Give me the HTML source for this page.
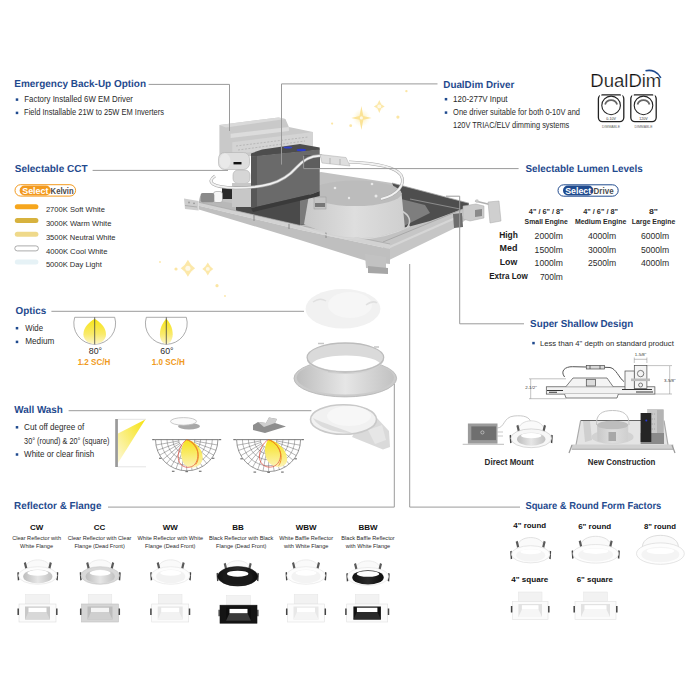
<!DOCTYPE html>
<html><head><meta charset="utf-8"><title>Recessed Downlight Features</title>
<style>
html,body{margin:0;padding:0;background:#fff;width:700px;height:700px;overflow:hidden}
svg{display:block;font-family:"Liberation Sans",sans-serif}
</style></head><body>
<svg width="700" height="700" viewBox="0 0 700 700">
<rect width="700" height="700" fill="#fff"/>
<defs>
<linearGradient id="gPetal" x1="0" y1="0" x2="0" y2="1"><stop offset="0" stop-color="#f7e414"/><stop offset="0.6" stop-color="#f9ea6a"/><stop offset="1" stop-color="#fcf5c8"/></linearGradient>
<linearGradient id="gWall" x1="1" y1="0" x2="0" y2="1"><stop offset="0" stop-color="#f6e20e"/><stop offset="1" stop-color="#fdf8d8"/></linearGradient>
<linearGradient id="gLobe" x1="0" y1="0" x2="0" y2="1"><stop offset="0" stop-color="#f6e21a"/><stop offset="1" stop-color="#fcf3b8"/></linearGradient>
<linearGradient id="gCan" x1="0" y1="0" x2="1" y2="0"><stop offset="0" stop-color="#c8c8c8"/><stop offset="0.5" stop-color="#dedede"/><stop offset="1" stop-color="#cfcfcf"/></linearGradient>
<linearGradient id="gPan" x1="0" y1="0" x2="1" y2="1"><stop offset="0" stop-color="#5e5e5e"/><stop offset="1" stop-color="#8c8c8c"/></linearGradient>
<linearGradient id="gFlange" x1="0" y1="0" x2="0" y2="1"><stop offset="0" stop-color="#cfcfcf"/><stop offset="1" stop-color="#e4e4e4"/></linearGradient>
<linearGradient id="gSilver" x1="0" y1="0" x2="1" y2="0"><stop offset="0" stop-color="#bdbdbd"/><stop offset="0.5" stop-color="#e6e6e6"/><stop offset="1" stop-color="#c2c2c2"/></linearGradient>
<linearGradient id="gBlack" x1="0" y1="0" x2="1" y2="0"><stop offset="0" stop-color="#111"/><stop offset="0.5" stop-color="#2a2a2a"/><stop offset="1" stop-color="#0c0c0c"/></linearGradient>
<radialGradient id="gStar"><stop offset="0" stop-color="#fbe38a" stop-opacity="0.9"/><stop offset="1" stop-color="#fdf3c8" stop-opacity="0"/></radialGradient>
<filter id="fBlur" x="-50%" y="-50%" width="200%" height="200%"><feGaussianBlur stdDeviation="0.6"/></filter>
<filter id="fBlur2" x="-50%" y="-50%" width="200%" height="200%"><feGaussianBlur stdDeviation="0.35"/></filter>
</defs>
<g fill="#1f4a8e">
<rect x="15.75" y="98.35" width="2.5" height="2.5"/>
<rect x="15.75" y="111.65" width="2.5" height="2.5"/>
<rect x="444.75" y="97.95" width="2.5" height="2.5"/>
<rect x="444.75" y="111.35" width="2.5" height="2.5"/>
<rect x="15.75" y="326.95" width="2.5" height="2.5"/>
<rect x="15.75" y="340.65" width="2.5" height="2.5"/>
<rect x="15.75" y="426.05" width="2.5" height="2.5"/>
<rect x="15.75" y="453.25" width="2.5" height="2.5"/>
<rect x="532.25" y="341.85" width="2.5" height="2.5"/>
</g>
<rect x="15" y="184.7" width="60.6" height="11.4" rx="5.7" fill="#fff" stroke="#f39a1e" stroke-width="1"/>
<rect x="19.6" y="185.5" width="31.2" height="10" rx="5" fill="#f39a1e"/>
<text x="22.2" y="193.6" font-size="9" font-weight="bold" fill="#fff" textLength="26.3" lengthAdjust="spacingAndGlyphs">Select</text>
<text x="50.6" y="193.6" font-size="9" font-weight="bold" fill="#4a4a4a" textLength="23" lengthAdjust="spacingAndGlyphs">Kelvin</text>
<rect x="14.8" y="204.3" width="23.6" height="5" rx="2.5" fill="#f6a61d"/>
<rect x="14.8" y="218.0" width="23.6" height="5" rx="2.5" fill="#d7b23e"/>
<rect x="14.8" y="231.7" width="23.6" height="5" rx="2.5" fill="#efd98a"/>
<rect x="14.8" y="245.9" width="23.6" height="5" rx="2.5" fill="#ffffff" stroke="#888" stroke-width="0.7"/>
<rect x="14.8" y="259.6" width="23.6" height="5" rx="2.5" fill="#e6f2f6"/>
<path d="M74.7,317.3 A20.9,20.9 0 1 0 114.7,317.3 Z" fill="#fff" stroke="#8a8a8a" stroke-width="0.7"/><path d="M94.7,318.8 C99.8,321.8 106.0,327.3 106.0,334.3 C106.0,340.3 100.4,344.1 94.7,344.1 C89.0,344.1 83.4,340.3 83.4,334.3 C83.4,327.3 89.6,321.8 94.7,318.8 Z" fill="url(#gPetal)"/><path d="M94.7,317.3V344.4" stroke="#444" stroke-width="0.8"/>
<path d="M146.3,317.3 A20.9,20.9 0 1 0 186.3,317.3 Z" fill="#fff" stroke="#8a8a8a" stroke-width="0.7"/><path d="M166.3,318.8 C169.2,321.8 172.7,327.3 172.7,334.3 C172.7,340.3 169.5,344.1 166.3,344.1 C163.1,344.1 159.9,340.3 159.9,334.3 C159.9,327.3 163.4,321.8 166.3,318.8 Z" fill="url(#gPetal)"/><path d="M166.3,317.3V344.4" stroke="#444" stroke-width="0.8"/>
<rect x="115.2" y="419" width="2.7" height="48" fill="#9a9a9a"/>
<path d="M118,419.3H146M118,466.8H146" stroke="#d0d0d0" stroke-width="0.6"/>
<path d="M145.3,419.6L118,433.6V463Z" fill="url(#gWall)"/>
<path d="M155.5,439.6 A31.2,31.2 0 0 0 217.89999999999998,439.6 Z" fill="#fff" stroke="#555" stroke-width="0.6"/><path d="M178.6,439.6 A8.1,8.1 0 0 0 194.8,439.6 M172.7,439.6 A14.0,14.0 0 0 0 200.7,439.6 M167.0,439.6 A19.7,19.7 0 0 0 206.4,439.6 M161.1,439.6 A25.6,25.6 0 0 0 212.3,439.6 M194.7,441.0L217.4,445.0 M194.3,442.4L216.0,450.3 M193.7,443.7L213.7,455.2 M192.9,444.8L210.6,459.7 M191.9,445.8L206.8,463.5 M190.8,446.6L202.3,466.6 M189.5,447.2L197.4,468.9 M188.1,447.6L192.1,470.3 M186.7,447.7L186.7,470.8 M185.3,447.6L181.3,470.3 M183.9,447.2L176.0,468.9 M182.6,446.6L171.1,466.6 M181.5,445.8L166.6,463.5 M180.5,444.8L162.8,459.7 M179.7,443.7L159.7,455.2 M179.1,442.4L157.4,450.3 M178.7,441.0L156.0,445.0" fill="none" stroke="#4a4a4a" stroke-width="0.4"/><g transform="translate(186.7,439.6)"><path d="M0,0 C6,1 16,8 16,18 C16,25 10,28.5 4,28 C-2,27.5 -5.5,22 -5.5,14 C-5.5,7 -3,2 0,0Z" fill="url(#gLobe)"/><path d="M0,0 C-6,4 -10,14 -8,21 C-6,27 0,29 5,27 C10,25 12,18 11,12 C10,6 5,1 0,0Z" fill="none" stroke="#e24a3c" stroke-width="0.7"/><path d="M0,0 C5,2 11,8 11.5,15 C12,20 10,24 9,25" fill="none" stroke="#ef8a1c" stroke-width="0.9"/></g><path d="M154.5,439.6H218.89999999999998" stroke="#777" stroke-width="0.6"/><rect x="152.2" y="439.0" width="2.6" height="1.2" fill="#777"/><rect x="218.6" y="439.0" width="2.6" height="1.2" fill="#777"/><rect x="159.0" y="457.7" width="2.6" height="1.2" fill="#777"/><rect x="211.8" y="457.7" width="2.6" height="1.2" fill="#777"/><rect x="171.9" y="470.7" width="2.6" height="1.2" fill="#777"/><rect x="198.9" y="470.7" width="2.6" height="1.2" fill="#777"/><rect x="185.4" y="471.0" width="2.6" height="1.2" fill="#777"/>
<path d="M236.60000000000002,439.6 A32,32 0 0 0 300.6,439.6 Z" fill="#fff" stroke="#555" stroke-width="0.6"/><path d="M260.3,439.6 A8.3,8.3 0 0 0 276.9,439.6 M254.2,439.6 A14.4,14.4 0 0 0 283.0,439.6 M248.4,439.6 A20.2,20.2 0 0 0 288.8,439.6 M242.4,439.6 A26.2,26.2 0 0 0 294.8,439.6 M276.8,441.0L300.1,445.2 M276.4,442.4L298.7,450.5 M275.8,443.8L296.3,455.6 M275.0,444.9L293.1,460.2 M273.9,446.0L289.2,464.1 M272.8,446.8L284.6,467.3 M271.4,447.4L279.5,469.7 M270.0,447.8L274.2,471.1 M268.6,447.9L268.6,471.6 M267.2,447.8L263.0,471.1 M265.8,447.4L257.7,469.7 M264.4,446.8L252.6,467.3 M263.3,446.0L248.0,464.1 M262.2,444.9L244.1,460.2 M261.4,443.8L240.9,455.6 M260.8,442.4L238.5,450.5 M260.4,441.0L237.1,445.2" fill="none" stroke="#4a4a4a" stroke-width="0.4"/><g transform="translate(268.6,439.6)"><path d="M0,0 C7,1 18,9 18.5,19 C19,25 14,28 9,27.5 C3,27 -3,22 -3.5,13 C-4,7 -2,2 0,0Z" fill="url(#gLobe)"/><path d="M0,0 C-6,3 -10,12 -9,19 C-8,25 -3,28 2,27.5 C8,27 12,22 12,15 C11.5,8 6,2 0,0Z" fill="none" stroke="#e24a3c" stroke-width="0.7"/><path d="M0,0 C6,2 12,9 12.5,16 C13,21 11,25 10,26" fill="none" stroke="#ef8a1c" stroke-width="0.9"/></g><path d="M235.60000000000002,439.6H301.6" stroke="#777" stroke-width="0.6"/><rect x="233.3" y="439.0" width="2.6" height="1.2" fill="#777"/><rect x="301.3" y="439.0" width="2.6" height="1.2" fill="#777"/><rect x="240.3" y="458.2" width="2.6" height="1.2" fill="#777"/><rect x="294.3" y="458.2" width="2.6" height="1.2" fill="#777"/><rect x="253.5" y="471.5" width="2.6" height="1.2" fill="#777"/><rect x="281.1" y="471.5" width="2.6" height="1.2" fill="#777"/><rect x="267.3" y="471.8" width="2.6" height="1.2" fill="#777"/>
<ellipse cx="189" cy="426.2" rx="11" ry="3.2" fill="#a8a8a8" filter="url(#fBlur2)"/>
<ellipse cx="183.5" cy="421.4" rx="13" ry="3.8" fill="#fafafa" stroke="#bdbdbd" stroke-width="0.8"/>
<path d="M253,425 L258,422 L266,423 L269,417.5 L277,419 L275,423 L286,426.5 L265,433 L253,430Z" fill="#8e8e8e"/>
<path d="M258,422 L266,423 L269,417.5 L277,419 L275,423 L264,427Z" fill="#cfcfcf"/>
<g filter="url(#fBlur)" opacity="0.85"><circle cx="361.4" cy="117.9" r="9.0" fill="url(#gStar)"/><path d="M361.4,105.9 L363.32,115.98 L371.6,117.9 L363.32,119.82 L361.4,129.9 L359.48,119.82 L351.2,117.9 L359.48,115.98Z" fill="#fbdf85"/><circle cx="361.4" cy="117.9" r="1.56" fill="#fff" opacity="0.75"/></g>
<g filter="url(#fBlur)" opacity="0.7"><circle cx="379.3" cy="106.4" r="4.9" fill="url(#gStar)"/><path d="M379.3,99.9 L381.25,104.45 L384.8,106.4 L381.25,108.35 L379.3,112.9 L377.35,108.35 L373.8,106.4 L377.35,104.45Z" fill="#fbdf85"/><circle cx="379.3" cy="106.4" r="1.95" fill="#fff" opacity="0.75"/></g>
<g filter="url(#fBlur)" opacity="0.7"><circle cx="187.9" cy="268.3" r="6.4" fill="url(#gStar)"/><path d="M187.9,259.8 L191.13,265.07 L195.1,268.3 L191.13,271.53 L187.9,276.8 L184.67,271.53 L180.7,268.3 L184.67,265.07Z" fill="#fbdf85"/><circle cx="187.9" cy="268.3" r="2.55" fill="#fff" opacity="0.75"/></g>
<g filter="url(#fBlur)" opacity="0.7"><circle cx="207.8" cy="268.9" r="4.9" fill="url(#gStar)"/><path d="M207.8,262.4 L210.27,266.43 L213.3,268.9 L210.27,271.37 L207.8,275.4 L205.33,271.37 L202.3,268.9 L205.33,266.43Z" fill="#fbdf85"/><circle cx="207.8" cy="268.9" r="1.95" fill="#fff" opacity="0.75"/></g>
<circle cx="397.9" cy="117.1" r="1.6" fill="#fbe08e" opacity="0.8" filter="url(#fBlur)"/>
<circle cx="406.4" cy="91.1" r="1.2" fill="#fbe08e" opacity="0.8" filter="url(#fBlur)"/>
<circle cx="332.1" cy="123.6" r="1.1" fill="#fbe08e" opacity="0.8" filter="url(#fBlur)"/>
<circle cx="350.7" cy="125.7" r="1.4" fill="#fbe08e" opacity="0.8" filter="url(#fBlur)"/>
<circle cx="176" cy="269" r="1.6" fill="#fbe08e" opacity="0.8" filter="url(#fBlur)"/>
<circle cx="217" cy="285.7" r="1.6" fill="#fbe08e" opacity="0.8" filter="url(#fBlur)"/>
<circle cx="160" cy="262" r="0.9" fill="#fbe08e" opacity="0.8" filter="url(#fBlur)"/>
<circle cx="225" cy="296" r="0.9" fill="#fbe08e" opacity="0.8" filter="url(#fBlur)"/>
<text x="14.3" y="87.0" font-size="10.2" font-weight="bold" fill="#1f4a8e" text-anchor="start" textLength="131.7" lengthAdjust="spacingAndGlyphs" text-rendering="geometricPrecision">Emergency Back-Up Option</text>
<text x="14.8" y="172.1" font-size="10.2" font-weight="bold" fill="#1f4a8e" text-anchor="start" textLength="72.7" lengthAdjust="spacingAndGlyphs" text-rendering="geometricPrecision">Selectable CCT</text>
<text x="15.6" y="314.2" font-size="10.2" font-weight="bold" fill="#1f4a8e" text-anchor="start" textLength="30.7" lengthAdjust="spacingAndGlyphs" text-rendering="geometricPrecision">Optics</text>
<text x="14.2" y="412.7" font-size="10.2" font-weight="bold" fill="#1f4a8e" text-anchor="start" textLength="48.7" lengthAdjust="spacingAndGlyphs" text-rendering="geometricPrecision">Wall Wash</text>
<text x="14.1" y="509.4" font-size="10.2" font-weight="bold" fill="#1f4a8e" text-anchor="start" textLength="87.3" lengthAdjust="spacingAndGlyphs" text-rendering="geometricPrecision">Reflector &amp; Flange</text>
<text x="443.3" y="87.6" font-size="10.2" font-weight="bold" fill="#1f4a8e" text-anchor="start" textLength="71.0" lengthAdjust="spacingAndGlyphs" text-rendering="geometricPrecision">DualDim Driver</text>
<text x="525.4" y="172.1" font-size="10.2" font-weight="bold" fill="#1f4a8e" text-anchor="start" textLength="117.3" lengthAdjust="spacingAndGlyphs" text-rendering="geometricPrecision">Selectable Lumen Levels</text>
<text x="530.1" y="327.1" font-size="10.2" font-weight="bold" fill="#1f4a8e" text-anchor="start" textLength="103.2" lengthAdjust="spacingAndGlyphs" text-rendering="geometricPrecision">Super Shallow Design</text>
<text x="525.4" y="509.3" font-size="10.2" font-weight="bold" fill="#1f4a8e" text-anchor="start" textLength="135.9" lengthAdjust="spacingAndGlyphs" text-rendering="geometricPrecision">Square &amp; Round Form Factors</text>
<text x="24.3" y="101.7" font-size="8.2" font-weight="normal" fill="#2a2a2a" text-anchor="start" textLength="108.7" lengthAdjust="spacingAndGlyphs">Factory Installed 6W EM Driver</text>
<text x="24.1" y="115.4" font-size="8.2" font-weight="normal" fill="#2a2a2a" text-anchor="start" textLength="139.9" lengthAdjust="spacingAndGlyphs">Field Installable 21W to 25W EM Inverters</text>
<text x="453.1" y="101.5" font-size="8.2" font-weight="normal" fill="#2a2a2a" text-anchor="start" textLength="54.5" lengthAdjust="spacingAndGlyphs">120-277V Input</text>
<text x="453.1" y="115.0" font-size="8.2" font-weight="normal" fill="#2a2a2a" text-anchor="start" textLength="126.9" lengthAdjust="spacingAndGlyphs">One driver suitable for both 0-10V and</text>
<text x="453.1" y="128.3" font-size="8.2" font-weight="normal" fill="#2a2a2a" text-anchor="start" textLength="116.2" lengthAdjust="spacingAndGlyphs">120V TRIAC/ELV dimming systems</text>
<text x="45.9" y="212.4" font-size="8.0" font-weight="normal" fill="#2a2a2a" text-anchor="start" textLength="59.0" lengthAdjust="spacingAndGlyphs">2700K Soft White</text>
<text x="45.9" y="226.2" font-size="8.0" font-weight="normal" fill="#2a2a2a" text-anchor="start" textLength="65.5" lengthAdjust="spacingAndGlyphs">3000K Warm White</text>
<text x="45.9" y="239.8" font-size="8.0" font-weight="normal" fill="#2a2a2a" text-anchor="start" textLength="69.6" lengthAdjust="spacingAndGlyphs">3500K Neutral White</text>
<text x="45.9" y="253.6" font-size="8.0" font-weight="normal" fill="#2a2a2a" text-anchor="start" textLength="61.6" lengthAdjust="spacingAndGlyphs">4000K Cool White</text>
<text x="45.9" y="267.4" font-size="8.0" font-weight="normal" fill="#2a2a2a" text-anchor="start" textLength="55.9" lengthAdjust="spacingAndGlyphs">5000K Day Light</text>
<text x="25.3" y="330.7" font-size="8.2" font-weight="normal" fill="#2a2a2a" text-anchor="start" textLength="17.7" lengthAdjust="spacingAndGlyphs">Wide</text>
<text x="25.3" y="344.4" font-size="8.2" font-weight="normal" fill="#2a2a2a" text-anchor="start" textLength="29.0" lengthAdjust="spacingAndGlyphs">Medium</text>
<text x="95.5" y="354.0" font-size="8.6" font-weight="normal" fill="#2a2a2a" text-anchor="middle" textLength="13.3" lengthAdjust="spacingAndGlyphs">80°</text>
<text x="94.0" y="364.6" font-size="8.6" font-weight="bold" fill="#f09a20" text-anchor="middle" textLength="32.7" lengthAdjust="spacingAndGlyphs">1.2 SC/H</text>
<text x="167.0" y="354.0" font-size="8.6" font-weight="normal" fill="#2a2a2a" text-anchor="middle" textLength="13.3" lengthAdjust="spacingAndGlyphs">60°</text>
<text x="168.3" y="364.6" font-size="8.6" font-weight="bold" fill="#f09a20" text-anchor="middle" textLength="32.9" lengthAdjust="spacingAndGlyphs">1.0 SC/H</text>
<text x="24.1" y="429.8" font-size="8.2" font-weight="normal" fill="#2a2a2a" text-anchor="start" textLength="60.2" lengthAdjust="spacingAndGlyphs">Cut off degree of</text>
<text x="24.1" y="443.9" font-size="8.2" font-weight="normal" fill="#2a2a2a" text-anchor="start" textLength="85.4" lengthAdjust="spacingAndGlyphs">30° (round) &amp; 20° (square)</text>
<text x="24.1" y="457.0" font-size="8.2" font-weight="normal" fill="#2a2a2a" text-anchor="start" textLength="70.2" lengthAdjust="spacingAndGlyphs">White or clear finish</text>
<text x="546.2" y="213.8" font-size="7.6" font-weight="bold" fill="#2a2a2a" text-anchor="middle" textLength="34.7" lengthAdjust="spacingAndGlyphs">4&quot; / 6&quot; / 8&quot;</text>
<text x="546.2" y="223.6" font-size="7.6" font-weight="bold" fill="#2a2a2a" text-anchor="middle" textLength="43.2" lengthAdjust="spacingAndGlyphs">Small Engine</text>
<text x="600.6" y="213.8" font-size="7.6" font-weight="bold" fill="#2a2a2a" text-anchor="middle" textLength="34.7" lengthAdjust="spacingAndGlyphs">4&quot; / 6&quot; / 8&quot;</text>
<text x="600.6" y="223.6" font-size="7.6" font-weight="bold" fill="#2a2a2a" text-anchor="middle" textLength="51.4" lengthAdjust="spacingAndGlyphs">Medium Engine</text>
<text x="653.5" y="213.8" font-size="7.6" font-weight="bold" fill="#2a2a2a" text-anchor="middle" textLength="9.0" lengthAdjust="spacingAndGlyphs">8&quot;</text>
<text x="653.5" y="223.6" font-size="7.6" font-weight="bold" fill="#2a2a2a" text-anchor="middle" textLength="43.4" lengthAdjust="spacingAndGlyphs">Large Engine</text>
<text x="508.5" y="237.7" font-size="8.9" font-weight="bold" fill="#1a1a1a" text-anchor="middle" textLength="18.7" lengthAdjust="spacingAndGlyphs">High</text>
<text x="508.5" y="251.4" font-size="8.9" font-weight="bold" fill="#1a1a1a" text-anchor="middle" textLength="17.9" lengthAdjust="spacingAndGlyphs">Med</text>
<text x="508.5" y="265.1" font-size="8.9" font-weight="bold" fill="#1a1a1a" text-anchor="middle" textLength="17.5" lengthAdjust="spacingAndGlyphs">Low</text>
<text x="508.5" y="278.6" font-size="8.9" font-weight="bold" fill="#1a1a1a" text-anchor="middle" textLength="38.7" lengthAdjust="spacingAndGlyphs">Extra Low</text>
<text x="548.7" y="238.9" font-size="8.6" font-weight="normal" fill="#2a2a2a" text-anchor="middle" textLength="28.2" lengthAdjust="spacingAndGlyphs">2000lm</text>
<text x="602.0" y="238.9" font-size="8.6" font-weight="normal" fill="#2a2a2a" text-anchor="middle" textLength="28.2" lengthAdjust="spacingAndGlyphs">4000lm</text>
<text x="655.0" y="238.9" font-size="8.6" font-weight="normal" fill="#2a2a2a" text-anchor="middle" textLength="28.2" lengthAdjust="spacingAndGlyphs">6000lm</text>
<text x="548.7" y="252.5" font-size="8.6" font-weight="normal" fill="#2a2a2a" text-anchor="middle" textLength="28.2" lengthAdjust="spacingAndGlyphs">1500lm</text>
<text x="602.0" y="252.5" font-size="8.6" font-weight="normal" fill="#2a2a2a" text-anchor="middle" textLength="28.2" lengthAdjust="spacingAndGlyphs">3000lm</text>
<text x="655.0" y="252.5" font-size="8.6" font-weight="normal" fill="#2a2a2a" text-anchor="middle" textLength="28.2" lengthAdjust="spacingAndGlyphs">5000lm</text>
<text x="548.7" y="266.0" font-size="8.6" font-weight="normal" fill="#2a2a2a" text-anchor="middle" textLength="28.2" lengthAdjust="spacingAndGlyphs">1000lm</text>
<text x="602.0" y="266.0" font-size="8.6" font-weight="normal" fill="#2a2a2a" text-anchor="middle" textLength="28.2" lengthAdjust="spacingAndGlyphs">2500lm</text>
<text x="655.0" y="266.0" font-size="8.6" font-weight="normal" fill="#2a2a2a" text-anchor="middle" textLength="28.2" lengthAdjust="spacingAndGlyphs">4000lm</text>
<text x="539.9" y="279.5" font-size="8.6" font-weight="normal" fill="#2a2a2a" text-anchor="start" textLength="23.0" lengthAdjust="spacingAndGlyphs">700lm</text>
<text x="540.0" y="345.5" font-size="8.0" font-weight="normal" fill="#2a2a2a" text-anchor="start" textLength="133.8" lengthAdjust="spacingAndGlyphs">Less than 4&quot; depth on standard product</text>
<text x="484.6" y="464.7" font-size="8.4" font-weight="bold" fill="#2a2a2a" text-anchor="start" textLength="49.2" lengthAdjust="spacingAndGlyphs">Direct Mount</text>
<text x="587.8" y="465.0" font-size="8.4" font-weight="bold" fill="#2a2a2a" text-anchor="start" textLength="67.6" lengthAdjust="spacingAndGlyphs">New Construction</text>
<text x="36.6" y="530.0" font-size="8.0" font-weight="bold" fill="#111" text-anchor="middle">CW</text>
<text x="36.6" y="540.4" font-size="5.6" font-weight="normal" fill="#2a2a2a" text-anchor="middle">Clear Reflector with</text>
<text x="36.6" y="547.9" font-size="5.6" font-weight="normal" fill="#2a2a2a" text-anchor="middle">White Flange</text>
<text x="99.6" y="530.0" font-size="8.0" font-weight="bold" fill="#111" text-anchor="middle">CC</text>
<text x="99.6" y="540.4" font-size="5.6" font-weight="normal" fill="#2a2a2a" text-anchor="middle">Clear Reflector with Clear</text>
<text x="99.6" y="547.9" font-size="5.6" font-weight="normal" fill="#2a2a2a" text-anchor="middle">Flange (Dead Front)</text>
<text x="170.3" y="530.0" font-size="8.0" font-weight="bold" fill="#111" text-anchor="middle">WW</text>
<text x="170.3" y="540.4" font-size="5.6" font-weight="normal" fill="#2a2a2a" text-anchor="middle">White Reflector with White</text>
<text x="170.3" y="547.9" font-size="5.6" font-weight="normal" fill="#2a2a2a" text-anchor="middle">Flange (Dead Front)</text>
<text x="238.0" y="530.0" font-size="8.0" font-weight="bold" fill="#111" text-anchor="middle">BB</text>
<text x="241.2" y="540.4" font-size="5.6" font-weight="normal" fill="#2a2a2a" text-anchor="middle">Black Reflector with Black</text>
<text x="241.2" y="547.9" font-size="5.6" font-weight="normal" fill="#2a2a2a" text-anchor="middle">Flange (Dead Front)</text>
<text x="306.2" y="530.0" font-size="8.0" font-weight="bold" fill="#111" text-anchor="middle">WBW</text>
<text x="306.2" y="540.4" font-size="5.6" font-weight="normal" fill="#2a2a2a" text-anchor="middle">White Baffle Reflector</text>
<text x="306.2" y="547.9" font-size="5.6" font-weight="normal" fill="#2a2a2a" text-anchor="middle">with White Flange</text>
<text x="368.0" y="530.0" font-size="8.0" font-weight="bold" fill="#111" text-anchor="middle">BBW</text>
<text x="368.0" y="540.4" font-size="5.6" font-weight="normal" fill="#2a2a2a" text-anchor="middle">Black Baffle Reflector</text>
<text x="368.0" y="547.9" font-size="5.6" font-weight="normal" fill="#2a2a2a" text-anchor="middle">with White Flange</text>
<text x="529.7" y="528.4" font-size="7.8" font-weight="bold" fill="#111" text-anchor="middle" textLength="32.7" lengthAdjust="spacingAndGlyphs">4&quot; round</text>
<text x="594.7" y="529.3" font-size="7.8" font-weight="bold" fill="#111" text-anchor="middle" textLength="33.0" lengthAdjust="spacingAndGlyphs">6&quot; round</text>
<text x="660.0" y="529.3" font-size="7.8" font-weight="bold" fill="#111" text-anchor="middle" textLength="32.1" lengthAdjust="spacingAndGlyphs">8&quot; round</text>
<text x="529.8" y="582.0" font-size="7.8" font-weight="bold" fill="#111" text-anchor="middle" textLength="37.1" lengthAdjust="spacingAndGlyphs">4&quot; square</text>
<text x="594.8" y="582.0" font-size="7.8" font-weight="bold" fill="#111" text-anchor="middle" textLength="36.3" lengthAdjust="spacingAndGlyphs">6&quot; square</text>
<path d="M200,196 L321,172 L392,183 L469,203.4 L469,208 L383,244 L300,228 L199,203Z" fill="#c2c2c2"/>
<path d="M392,183 L469,203.2 L468,207 L430,221 L404,228 L398,196Z" fill="#4e4e4e"/>
<path d="M401,199 L425,205 L430,213 L404,226Z" fill="#7e7e7e"/>
<path d="M410,199 L460,209" stroke="#8a8a8a" stroke-width="1.2"/>
<path d="M392,183 L469,203.2" stroke="#aaa" stroke-width="0.8"/>
<path d="M236,206 L251,207 L319.7,189 L330,194 L312,200 L306,224 L300,225.4 L236,211Z" fill="#4a4a4a"/>
<path d="M200,197 L236,204 L236,211 L198.9,202.3Z" fill="#b8b8b8"/>
<path d="M300,200 L312,198 L306,224 L300,225Z" fill="#7a7a7a"/>
<path d="M383,242 L469,206.5 L471,216 L454,228.6 L383,263Z" fill="#c6c6c6"/>
<path d="M383,250 L470,211.5" stroke="#d6d6d6" stroke-width="2"/>
<path d="M383,242 L469,206.5" stroke="#9c9c9c" stroke-width="0.7"/>
<path d="M198.9,202.3 L300,225.4 L390,244 L390,249 L300,229.7 L198.9,205.7Z" fill="#d2d2d2"/>
<path d="M198.9,205.7 L300,229.7 L390,249 L390,264 L370,262 L300,240 L198.9,209.5Z" fill="#bfbfbf"/>
<path d="M198.9,202.3 L300,225.4 L390,244" fill="none" stroke="#a5a5a5" stroke-width="0.7"/>
<path d="M254,215 v6 M326,232 v6 M289,224 v5" stroke="#888" stroke-width="1"/>
<path d="M184,198.5 L198.6,201 L198.6,210.5 L185,209Z" fill="#cdcdcd"/>
<path d="M185,205.5 L197,207" stroke="#a5a5a5" stroke-width="0.8"/>
<circle cx="189" cy="202.5" r="0.9" fill="#999"/><circle cx="194" cy="203.3" r="0.9" fill="#999"/>
<path d="M365,254 L386,257 L386,270 L366,268Z" fill="#c2c2c2"/>
<path d="M368,266 L388,268 L388,274 L368,273Z" fill="#a6a6a6"/>
<path d="M463,206 L476,204 L484,206 L484,218 L470,221 L463,219Z" fill="#cbcbcb" stroke="#a8a8a8" stroke-width="0.5"/>
<path d="M453,214 L462,213 L463,227 L454,228Z" fill="#6e6e6e"/>
<path d="M475,201 L490,204.5" stroke="#b0b0b0" stroke-width="1.6"/>
<circle cx="477" cy="201" r="1.7" fill="#c8c8c8"/>
<path d="M488,202 L499,201 L501,221 L490,223Z" fill="#cfcfcf" stroke="#a8a8a8" stroke-width="0.5"/>
<path d="M475,210 L482,209 L482,216 L475,217Z" fill="#8a8a8a"/>
<path d="M300,226 Q360,252 410,226" fill="none" stroke="#d8d8d8" stroke-width="1.2"/>
<path d="M402,211 Q414,218 407,228" fill="none" stroke="#cfcfcf" stroke-width="1.5"/>
<path d="M309,195 L304,224 Q340,242 378,237 L405,229 L401.5,193Z" fill="url(#gCan)"/>
<ellipse cx="355.3" cy="193.3" rx="46.3" ry="12.8" fill="#bcbcbc"/>
<circle cx="335" cy="188" r="1.3" fill="#e8e8e8"/><circle cx="372" cy="184" r="1.3" fill="#e8e8e8"/><circle cx="376" cy="196" r="1.5" fill="#e8e8e8"/><circle cx="349" cy="198" r="1.2" fill="#e8e8e8"/>
<rect x="314" y="197" width="12" height="12" fill="#c4c4c4" stroke="#999" stroke-width="0.5"/>
<rect x="315" y="203" width="10" height="4" fill="#777"/>
<path d="M219.4,125.1 L278.6,117.4 L285.4,119.1 L288.9,126.9 L312.9,132 L313,148 L251,156 L232,158 L219.4,160Z" fill="#c9c9c9"/>
<path d="M219.4,125.1 L278.6,117.4 L285.4,119.1 L226,127.5Z" fill="#dadada"/>
<path d="M230.6,133.7 L288.9,126.9 L288.9,131 L230.6,138Z" fill="#dcdcdc"/>
<path d="M232.3,142.3 L312.9,132 L313,146 L232.3,154Z" fill="#d4d4d4"/>
<path d="M236,146 L308,137 M238,150 L305,141" stroke="#b0b0b0" stroke-width="0.8" stroke-dasharray="2,1.5"/>
<rect x="218.5" y="152.5" width="31" height="17" rx="6" fill="#dedede" stroke="#b0b0b0" stroke-width="0.6"/>
<ellipse cx="225" cy="161" rx="5.5" ry="7.5" fill="#e9e9e9"/>
<rect x="233" y="170" width="17" height="13.5" rx="5" fill="#d6d6d6" stroke="#b0b0b0" stroke-width="0.6"/>
<rect x="233.5" y="162" width="8" height="2.4" fill="#111"/>
<rect x="222" y="187" width="10" height="12" fill="#2a2a2a"/>
<rect x="213.5" y="191.5" width="9" height="11" rx="2.5" fill="#f6f6f6" stroke="#888" stroke-width="0.5"/>
<rect x="200.6" y="192.9" width="13.7" height="9.4" rx="2" fill="#8a8a8a"/>
<rect x="232" y="183" width="19" height="24" fill="#c7c7c7"/>
<path d="M251,153.4 L262,149.5 L300,144 L319.7,147.4 L319.7,150 L251,157Z" fill="#4d4d4d"/>
<path d="M251,156.5 L319.7,149.5 L319.7,191 L312,194 L251,208.3Z" fill="#6a6a6a"/>
<path d="M251,156.5 L257,156 L257,207 L251,208.3Z" fill="#575757"/>
<path d="M251,208.3 L312,194 L319.7,191 L319.7,196 L253,212Z" fill="#3a3a3a"/>
<ellipse cx="288" cy="147.5" rx="4.3" ry="1.1" fill="#3344cc"/>
<ellipse cx="301.3" cy="150" rx="4.7" ry="1.2" fill="#2a3ad0"/>
<rect x="303.6" y="155.6" width="16" height="13" fill="#5e5e5e" stroke="#444" stroke-width="0.5"/>
<path d="M215,176 C206,182 212,187.5 235,187.8 C262,188 282,184 296,168 C304,159 312,155 322,156" fill="none" stroke="#a8a8a8" stroke-width="3"/>
<path d="M215,176 C206,182 212,187.5 235,187.8 C262,188 282,184 296,168 C304,159 312,155 322,156" fill="none" stroke="#f2f2f2" stroke-width="1.8"/>
<path d="M349,162 C372,163 395,166 401,175 C406,184 398,195 381,199" fill="none" stroke="#a8a8a8" stroke-width="3"/>
<path d="M349,162 C372,163 395,166 401,175 C406,184 398,195 381,199" fill="none" stroke="#f2f2f2" stroke-width="1.8"/>
<path d="M320,154.5 L346,157.5 L350,166 L322,163Z" fill="#dedede" stroke="#aaa" stroke-width="0.5"/>
<path d="M330,158 L330,164 M340,159 L340,165" stroke="#aaa" stroke-width="0.8"/>
<g fill="none" stroke="#9a9a9a" stroke-width="1">
<path d="M148.6,84.4H229.5V131"/>
<path d="M92.6,170.4H228"/>
<path d="M437.5,83.9H281.5V164.6"/>
<path d="M303.6,155.6V168.6H518.6"/>
<path d="M446,196.2H459.7V323.8H524"/>
<path d="M51.4,311.3H304"/>
<path d="M68.6,410.7H311.4"/>
<path d="M108,507.1H394.3V384"/>
<path d="M409.7,264V507.1H520"/>
</g>
<ellipse cx="343" cy="308.7" rx="37.4" ry="19.7" fill="#f1f1f1"/>
<ellipse cx="350" cy="305" rx="22" ry="13" fill="#f6f6f6"/>
<path d="M313,302 Q320,297 326,301 M366,305 Q373,300 377,303" stroke="#e0e0e0" stroke-width="1.5" fill="none"/>
<clipPath id="cpRim"><ellipse cx="345.4" cy="357.5" rx="37.2" ry="13.6"/></clipPath>
<ellipse cx="345.3" cy="378.3" rx="51.3" ry="18.6" fill="#cbcbcb" stroke="#b8b8b8" stroke-width="0.9"/>
<ellipse cx="345.3" cy="377.6" rx="48.6" ry="16.9" fill="url(#gSilver)"/>
<ellipse cx="345.4" cy="359.5" rx="38.3" ry="14.5" fill="#d2d2d2"/>
<ellipse cx="345.4" cy="357.5" rx="38.3" ry="14.5" fill="#dadada"/>
<ellipse cx="346" cy="366" rx="35.3" ry="10.5" fill="#fff" clip-path="url(#cpRim)"/>
<ellipse cx="345.4" cy="357.5" rx="38.3" ry="14.5" fill="none" stroke="#bcbcbc" stroke-width="1.3"/>
<path d="M318,343.5 h6 M374,347 h5 M328,371.5 h8" stroke="#c6c6c6" stroke-width="1.3"/>
<path d="M358,426 L376,417 L389,431 L390,447 L383,449.5 L352,437Z" fill="#dadada"/>
<path d="M368,430 L382,425 L386,440 L375,444Z" fill="#e6e6e6"/>
<ellipse cx="343.5" cy="419.5" rx="33" ry="14.8" fill="#f1f1f1" stroke="#c9c9c9" stroke-width="1.6"/>
<path d="M313,418 C318,428 335,433 352,433 C340,428 325,424 313,418Z" fill="#dcdcdc"/>
<ellipse cx="349" cy="416" rx="22" ry="10" fill="#f7f7f7"/>
<text x="590.3" y="87.2" font-size="19" fill="#111" stroke="#fff" stroke-width="0.2" textLength="71" lengthAdjust="spacingAndGlyphs">DualDim</text>
<path d="M645.5,70.8 A13,13 0 0 1 660.8,77.8" fill="none" stroke="#1f4a8e" stroke-width="1.7"/>
<rect x="598.4" y="94.8" width="25.4" height="26.8" rx="4" fill="none" stroke="#222" stroke-width="1.3"/>
<path d="M600.6,93.5 v3.5 M621.6,93.5 v3.5" stroke="#fff" stroke-width="1.6"/>
<circle cx="611.1" cy="105.4" r="9.3" fill="none" stroke="#222" stroke-width="1.1"/>
<path d="M605.1,104.5 A6.3,6.3 0 0 1 617.1,104.5" fill="none" stroke="#666" stroke-width="1.8"/>
<text x="611.1" y="119.8" font-size="3.6" fill="#333" text-anchor="middle">0-10V</text>
<text x="611.1" y="128.3" font-size="3.6" fill="#666" text-anchor="middle" textLength="18" lengthAdjust="spacingAndGlyphs">DIMMABLE</text>
<rect x="630.8" y="94.8" width="25.4" height="26.8" rx="4" fill="none" stroke="#222" stroke-width="1.3"/>
<path d="M633.0,93.5 v3.5 M654.0,93.5 v3.5" stroke="#fff" stroke-width="1.6"/>
<circle cx="643.5" cy="105.4" r="9.3" fill="none" stroke="#222" stroke-width="1.1"/>
<path d="M637.5,104.5 A6.3,6.3 0 0 1 649.5,104.5" fill="none" stroke="#666" stroke-width="1.8"/>
<text x="643.5" y="119.8" font-size="3.6" fill="#333" text-anchor="middle">120V</text>
<text x="643.5" y="128.3" font-size="3.6" fill="#666" text-anchor="middle" textLength="18" lengthAdjust="spacingAndGlyphs">DIMMABLE</text>
<rect x="558" y="184.8" width="60.2" height="11.4" rx="5.7" fill="#fff" stroke="#1f4a8e" stroke-width="1"/>
<rect x="563" y="185.5" width="30.4" height="10" rx="5" fill="#1f4a8e"/>
<text x="565.2" y="193.6" font-size="9" font-weight="bold" fill="#fff" textLength="26" lengthAdjust="spacingAndGlyphs">Select</text>
<text x="593.6" y="193.6" font-size="9" font-weight="bold" fill="#505050" textLength="20" lengthAdjust="spacingAndGlyphs">Drive</text>
<g fill="none" stroke="#4a4a4a" stroke-width="0.7"><rect x="546.3" y="386.8" width="108.6" height="7.3" fill="#f2f2f2"/><path d="M564.6,394.1 L566,398 H617 L618.3,394.1" fill="#f6f6f6"/><path d="M566,386.5 L573,378 H607 L613,386.5" fill="#f4f4f4"/><rect x="586.3" y="379.3" width="9.1" height="6.7" fill="#dcdcdc"/><rect x="625" y="371" width="9.3" height="18.6" fill="#f4f4f4"/><rect x="634.3" y="365.6" width="12.6" height="22.8" fill="#f4f4f4"/><circle cx="640.6" cy="373.6" r="3.2"/><circle cx="640.6" cy="385" r="2"/><path d="M631,379.8 H650" stroke-width="2.6" stroke="#bbb"/><path d="M564.6,377 C560,371 565,366.5 572.6,366.7 L586.3,367 M604.6,367.3 L610,367.5 C616,368.5 619,378 624,381.6" stroke="#555" stroke-width="1"/><rect x="586.3" y="365.6" width="18.3" height="3.4" fill="#d8d8d8"/><path d="M590,365.6 v3.4 M600,365.6 v3.4" stroke-width="0.8"/></g><path d="M547,390.5 H563 M549,392.3 H557 M622,389.5 H652 M636,392 H653" stroke="#333" stroke-width="1.1"/><g fill="none" stroke="#777" stroke-width="0.45"><path d="M646.9,365.6 H672 M655,394 H672 M669.7,366 V394 M634.3,363 V357.5 M646.9,363 V357.5 M634.3,359.3 H646.9 M529,378.8 H566 M529,398.7 H566 M530.7,379 V398.7"/></g><text x="640.6" y="356" font-size="4.4" fill="#333" text-anchor="middle">1-5/8"</text><text x="669.8" y="381.8" font-size="4.4" fill="#333" text-anchor="middle">3-5/8"</text><text x="531" y="388.6" font-size="4.4" fill="#333" text-anchor="middle">2-1/2"</text>
<path d="M462.7,444.3 H504" stroke="#aaa" stroke-width="0.8"/>
<rect x="467.9" y="423.5" width="29.6" height="20.1" fill="#9b9b9b"/>
<rect x="471.3" y="426.4" width="24.7" height="13.7" fill="#6f6f6f"/>
<circle cx="482.4" cy="432.4" r="1.6" fill="none" stroke="#ddd" stroke-width="0.6"/>
<path d="M497,428 C505,428 503,417 514,416 C524,415 530,417 531,423" fill="none" stroke="#bbb" stroke-width="0.8"/>
<path d="M497,432 H503 M497,436 H503" stroke="#bbb" stroke-width="0.8"/>
<path d="M580.6,420.5 L664,420.5 L668,445 L576,445Z" fill="#e4e4e4"/><path d="M580.6,420.5 H641" stroke="#555" stroke-width="0.9"/><path d="M580.6,420.5 L576,445 M664,420.5 L668,445" stroke="#aaa" stroke-width="1.2"/><path d="M583,421 L590,421 L592,440 L585,442Z" fill="#cfcfcf"/><ellipse cx="612.6" cy="437" rx="21" ry="7" fill="#d2d2d2"/><path d="M597,425 L597.5,441 Q612.6,446 628,441 L628.3,425Z" fill="url(#gCan)"/><ellipse cx="612.6" cy="425" rx="15.6" ry="4.3" fill="#bdbdbd"/><path d="M596.5,425 C596,414 602,410.5 612.6,410.5 C623,410.5 629.5,414 629,425" fill="none" stroke="#c4c4c4" stroke-width="1"/><rect x="608.5" y="432" width="7.5" height="9" fill="#a8a8a8"/><path d="M640.6,433 L664,433 L664,444 L640.6,444Z" fill="#8a8a8a"/><rect x="647.1" y="409" width="16.5" height="24" fill="#c9c9c9"/><rect x="657" y="410" width="6.6" height="23" fill="#b4b4b4"/><path d="M649,414 h6 M649,419 h6 M649,424 h6 M649,429 h6" stroke="#a0a0a0" stroke-width="0.8" stroke-dasharray="1.5,1"/><rect x="640.6" y="413" width="10.7" height="29" fill="#252525"/><circle cx="646.3" cy="420.5" r="1" fill="#2a3ad0"/><path d="M571.6,444.4 L673.4,444.4 L673.4,449.3 L571.6,449.3Z" fill="#d0d0d0"/><path d="M571.6,449.3 H673.4" stroke="#999" stroke-width="0.8"/><path d="M572,445 L569,453 M672,445 L675,453" stroke="#999" stroke-width="1.2"/>
<path d="M25.299999999999997,568.5 C25.799999999999997,557.0 49.8,557.0 50.3,568.5 L51.8,572.5 L23.799999999999997,572.5Z" fill="#fafafa" stroke="#e4e4e4" stroke-width="0.7"/><path d="M23.799999999999997,563.0 L25.799999999999997,562.0 L27.299999999999997,568.0 L25.299999999999997,569.0Z" fill="#5a5a5a"/><path d="M51.8,563.0 L49.8,562.0 L48.3,568.0 L50.3,569.0Z" fill="#5a5a5a"/><path d="M17.299999999999997,572.5 L18.799999999999997,572.0 L19.299999999999997,580.0 L17.799999999999997,580.5Z" fill="#444"/><path d="M58.3,572.5 L56.8,572.0 L56.3,580.0 L57.8,580.5Z" fill="#444"/><ellipse cx="37.8" cy="575.5" rx="19.3" ry="8.8" fill="#fdfdfd" stroke="#e0e0e0" stroke-width="0.6"/><ellipse cx="37.8" cy="576.4" rx="14.6" ry="7" fill="url(#gSilver)"/><ellipse cx="37.8" cy="572.9" rx="10.5" ry="2.8" fill="#fff"/><path d="M87.7,568.5 C88.2,557.0 112.2,557.0 112.7,568.5 L114.2,572.5 L86.2,572.5Z" fill="#fafafa" stroke="#e4e4e4" stroke-width="0.7"/><path d="M86.2,563.0 L88.2,562.0 L89.7,568.0 L87.7,569.0Z" fill="#5a5a5a"/><path d="M114.2,563.0 L112.2,562.0 L110.7,568.0 L112.7,569.0Z" fill="#5a5a5a"/><path d="M79.7,572.5 L81.2,572.0 L81.7,580.0 L80.2,580.5Z" fill="#444"/><path d="M120.7,572.5 L119.2,572.0 L118.7,580.0 L120.2,580.5Z" fill="#444"/><ellipse cx="100.2" cy="575.5" rx="19.3" ry="8.8" fill="#d9d9d9" stroke="#c4c4c4" stroke-width="0.6"/><ellipse cx="100.2" cy="576.4" rx="14.6" ry="7" fill="url(#gSilver)"/><ellipse cx="100.2" cy="572.9" rx="10.5" ry="2.8" fill="#fff"/><path d="M158.2,568.5 C158.7,557.0 182.7,557.0 183.2,568.5 L184.7,572.5 L156.7,572.5Z" fill="#fafafa" stroke="#e4e4e4" stroke-width="0.7"/><path d="M156.7,563.0 L158.7,562.0 L160.2,568.0 L158.2,569.0Z" fill="#5a5a5a"/><path d="M184.7,563.0 L182.7,562.0 L181.2,568.0 L183.2,569.0Z" fill="#5a5a5a"/><path d="M150.2,572.5 L151.7,572.0 L152.2,580.0 L150.7,580.5Z" fill="#444"/><path d="M191.2,572.5 L189.7,572.0 L189.2,580.0 L190.7,580.5Z" fill="#444"/><ellipse cx="170.7" cy="575.5" rx="19.3" ry="8.8" fill="#fdfdfd" stroke="#e2e2e2" stroke-width="0.6"/><ellipse cx="170.7" cy="576.4" rx="14.6" ry="7" fill="#f2f2f2"/><ellipse cx="170.7" cy="572.9" rx="10.5" ry="2.8" fill="#fff"/><path d="M225.2,569.3 C225.7,557.8 249.7,557.8 250.2,569.3 L251.7,573.3 L223.7,573.3Z" fill="#fafafa" stroke="#e4e4e4" stroke-width="0.7"/><path d="M223.7,563.8 L225.7,562.8 L227.2,568.8 L225.2,569.8Z" fill="#5a5a5a"/><path d="M251.7,563.8 L249.7,562.8 L248.2,568.8 L250.2,569.8Z" fill="#5a5a5a"/><path d="M216.5,573.3 L218.0,572.8 L218.5,580.8 L217.0,581.3Z" fill="#444"/><path d="M258.9,573.3 L257.4,572.8 L256.9,580.8 L258.4,581.3Z" fill="#444"/><ellipse cx="237.7" cy="576.3" rx="20" ry="9.7" fill="url(#gBlack)" stroke="#111" stroke-width="0.6"/><ellipse cx="237.7" cy="577.1999999999999" rx="15" ry="7.5" fill="#1a1a1a"/><ellipse cx="237.7" cy="573.6999999999999" rx="10.8" ry="3.0" fill="#fff"/><path d="M293.5,568.5 C294.0,557.0 318.0,557.0 318.5,568.5 L320.0,572.5 L292.0,572.5Z" fill="#fafafa" stroke="#e4e4e4" stroke-width="0.7"/><path d="M292.0,563.0 L294.0,562.0 L295.5,568.0 L293.5,569.0Z" fill="#5a5a5a"/><path d="M320.0,563.0 L318.0,562.0 L316.5,568.0 L318.5,569.0Z" fill="#5a5a5a"/><path d="M285.5,572.5 L287.0,572.0 L287.5,580.0 L286.0,580.5Z" fill="#444"/><path d="M326.5,572.5 L325.0,572.0 L324.5,580.0 L326.0,580.5Z" fill="#444"/><ellipse cx="306.0" cy="575.5" rx="19.3" ry="8.8" fill="#fdfdfd" stroke="#e2e2e2" stroke-width="0.6"/><ellipse cx="306.0" cy="576.4" rx="14.6" ry="7" fill="#f3f3f3"/><ellipse cx="306.0" cy="572.9" rx="10.5" ry="2.8" fill="#fff"/><path d="M355.5,569.5 C356.0,558.0 380.0,558.0 380.5,569.5 L382.0,573.5 L354.0,573.5Z" fill="#fafafa" stroke="#e4e4e4" stroke-width="0.7"/><path d="M354.0,564.0 L356.0,563.0 L357.5,569.0 L355.5,570.0Z" fill="#5a5a5a"/><path d="M382.0,564.0 L380.0,563.0 L378.5,569.0 L380.5,570.0Z" fill="#5a5a5a"/><path d="M346.3,573.5 L347.8,573.0 L348.3,581.0 L346.8,581.5Z" fill="#444"/><path d="M389.7,573.5 L388.2,573.0 L387.7,581.0 L389.2,581.5Z" fill="#444"/><ellipse cx="368.0" cy="576.5" rx="20.5" ry="9" fill="#fdfdfd" stroke="#e2e2e2" stroke-width="0.6"/><ellipse cx="368.0" cy="577.4" rx="15.7" ry="7.2" fill="url(#gBlack)"/><ellipse cx="368.0" cy="573.9" rx="11.3" ry="2.9" fill="#fff"/><rect x="25.7" y="594.5" width="23.6" height="9.5" fill="#f2f2f2" stroke="#e4e4e4" stroke-width="0.5"/><rect x="19.0" y="604.0" width="37" height="18" fill="#fbfbfb" stroke="#dcdcdc" stroke-width="0.6"/><rect x="25.0" y="606.5" width="25.0" height="13" fill="#c8c8c8"/><path d="M25.0,619.5 L28.5,612.0 H46.5 L50.0,619.5Z" fill="#d8d8d8"/><rect x="28.5" y="607.7" width="18.0" height="4.3" fill="#fff"/><path d="M18.2,608.5 v6.5 M56.8,608.5 v6.5" stroke="#444" stroke-width="1.5"/><rect x="88.2" y="594.5" width="23.6" height="9.5" fill="#f2f2f2" stroke="#e4e4e4" stroke-width="0.5"/><rect x="81.5" y="604.0" width="37" height="18" fill="#d6d6d6" stroke="#c0c0c0" stroke-width="0.6"/><rect x="87.5" y="606.5" width="25.0" height="13" fill="#bcbcbc"/><path d="M87.5,619.5 L91.0,612.0 H109.0 L112.5,619.5Z" fill="#cfcfcf"/><rect x="91.0" y="607.7" width="18.0" height="4.3" fill="#f4f4f4"/><path d="M80.7,608.5 v6.5 M119.3,608.5 v6.5" stroke="#444" stroke-width="1.5"/><rect x="158.39999999999998" y="594.5" width="23.6" height="9.5" fill="#f2f2f2" stroke="#e4e4e4" stroke-width="0.5"/><rect x="151.7" y="604.0" width="37" height="18" fill="#fbfbfb" stroke="#e0e0e0" stroke-width="0.6"/><rect x="157.7" y="606.5" width="25.0" height="13" fill="#e6e6e6"/><path d="M157.7,619.5 L161.2,612.0 H179.2 L182.7,619.5Z" fill="#f2f2f2"/><rect x="161.2" y="607.7" width="18.0" height="4.3" fill="#fff"/><path d="M150.89999999999998,608.5 v6.5 M189.5,608.5 v6.5" stroke="#444" stroke-width="1.5"/><rect x="226.7" y="595.7" width="23.6" height="9.5" fill="#f2f2f2" stroke="#e4e4e4" stroke-width="0.5"/><rect x="220.0" y="605.2" width="37" height="18" fill="#141414" stroke="#111" stroke-width="0.6"/><rect x="226.0" y="607.7" width="25.0" height="13" fill="#0e0e0e"/><path d="M226.0,620.7 L229.5,613.2 H247.5 L251.0,620.7Z" fill="#3a3a3a"/><rect x="229.5" y="608.9" width="18.0" height="4.3" fill="#fff"/><path d="M219.2,609.7 v6.5 M257.8,609.7 v6.5" stroke="#444" stroke-width="1.5"/><rect x="294.2" y="594.5" width="23.6" height="9.5" fill="#f2f2f2" stroke="#e4e4e4" stroke-width="0.5"/><rect x="287.5" y="604.0" width="37" height="18" fill="#fcfcfc" stroke="#e2e2e2" stroke-width="0.6"/><rect x="293.5" y="606.5" width="25.0" height="13" fill="#e8e8e8"/><path d="M293.5,619.5 L297.0,612.0 H315.0 L318.5,619.5Z" fill="#f4f4f4"/><rect x="297.0" y="607.7" width="18.0" height="4.3" fill="#fff"/><path d="M286.7,608.5 v6.5 M325.3,608.5 v6.5" stroke="#444" stroke-width="1.5"/><rect x="355.4" y="594.5" width="23.6" height="9.5" fill="#f2f2f2" stroke="#e4e4e4" stroke-width="0.5"/><rect x="346.7" y="604.0" width="41" height="18" fill="#fbfbfb" stroke="#e0e0e0" stroke-width="0.6"/><rect x="353.4" y="606.5" width="27.5" height="13" fill="#111"/><path d="M353.4,619.5 L356.9,612.0 H377.4 L380.9,619.5Z" fill="#2a2a2a"/><rect x="356.9" y="607.7" width="20.5" height="4.3" fill="#fff"/><path d="M345.9,608.5 v6.5 M388.5,608.5 v6.5" stroke="#444" stroke-width="1.5"/>
<path d="M517.9000000000001,431.3 C518.4000000000001,417.3 544.0,417.3 544.5,431.3 L546.0,435.3 L516.4000000000001,435.3Z" fill="#fafafa" stroke="#d0d0d0" stroke-width="0.7"/><path d="M516.4000000000001,425.8 L518.4000000000001,424.8 L519.9000000000001,430.8 L517.9000000000001,431.8Z" fill="#5a5a5a"/><path d="M546.0,425.8 L544.0,424.8 L542.5,430.8 L544.5,431.8Z" fill="#5a5a5a"/><path d="M509.6000000000001,435.3 L511.1000000000001,434.8 L511.6000000000001,442.8 L510.1000000000001,443.3Z" fill="#444"/><path d="M552.8000000000001,435.3 L551.3000000000001,434.8 L550.8000000000001,442.8 L552.3000000000001,443.3Z" fill="#444"/><ellipse cx="531.2" cy="438.3" rx="20.4" ry="9.4" fill="#f7f7f7" stroke="#c2c2c2" stroke-width="0.6"/><ellipse cx="531.2" cy="439.2" rx="14.2" ry="6.6" fill="url(#gSilver)"/><ellipse cx="531.2" cy="435.7" rx="10.2" ry="2.6" fill="#fff"/><path d="M517.2,547.3 C517.7,534.3 543.7,534.3 544.2,547.3 L545.7,551.3 L515.7,551.3Z" fill="#fafafa" stroke="#d6d6d6" stroke-width="0.7"/><path d="M515.7,541.8 L517.7,540.8 L519.2,546.8 L517.2,547.8Z" fill="#5a5a5a"/><path d="M545.7,541.8 L543.7,540.8 L542.2,546.8 L544.2,547.8Z" fill="#5a5a5a"/><path d="M510.20000000000005,551.3 L511.70000000000005,550.8 L512.2,558.8 L510.70000000000005,559.3Z" fill="#444"/><path d="M551.2,551.3 L549.7,550.8 L549.2,558.8 L550.7,559.3Z" fill="#444"/><ellipse cx="530.7" cy="554.3" rx="19.3" ry="8.6" fill="#fdfdfd" stroke="#d8d8d8" stroke-width="0.6"/><ellipse cx="530.7" cy="555.1999999999999" rx="14.5" ry="6.3" fill="#f4f4f4"/><ellipse cx="530.7" cy="551.6999999999999" rx="10.4" ry="2.5" fill="#fff"/><path d="M580.2,546.8 C580.7,532.8 610.7,532.8 611.2,546.8 L612.7,550.8 L578.7,550.8Z" fill="#fafafa" stroke="#d6d6d6" stroke-width="0.7"/><path d="M578.7,541.3 L580.7,540.3 L582.2,546.3 L580.2,547.3Z" fill="#5a5a5a"/><path d="M612.7,541.3 L610.7,540.3 L609.2,546.3 L611.2,547.3Z" fill="#5a5a5a"/><path d="M571.6,550.8 L573.1,550.3 L573.6,558.3 L572.1,558.8Z" fill="#444"/><path d="M619.8000000000001,550.8 L618.3000000000001,550.3 L617.8000000000001,558.3 L619.3000000000001,558.8Z" fill="#444"/><ellipse cx="595.7" cy="553.8" rx="22.9" ry="9.3" fill="#fdfdfd" stroke="#d8d8d8" stroke-width="0.6"/><ellipse cx="595.7" cy="554.6999999999999" rx="17.5" ry="6.8" fill="#f4f4f4"/><ellipse cx="595.7" cy="551.1999999999999" rx="12.6" ry="2.7" fill="#fff"/><path d="M642.4,546.6 C642.9,531.6 677.9,531.6 678.4,546.6 L679.9,550.6 L640.9,550.6Z" fill="#fafafa" stroke="#d0d0d0" stroke-width="0.7"/><ellipse cx="660.4" cy="553.6" rx="23.9" ry="10.7" fill="#fdfdfd" stroke="#d4d4d4" stroke-width="0.6"/><ellipse cx="660.4" cy="554.5" rx="19" ry="7.8" fill="#f4f4f4"/><ellipse cx="660.4" cy="551.0" rx="13.7" ry="3.1" fill="#fff"/><rect x="518.4000000000001" y="592" width="23.6" height="9.5" fill="#f2f2f2" stroke="#e4e4e4" stroke-width="0.5"/><rect x="512.4000000000001" y="601.5" width="35.6" height="18" fill="#fbfbfb" stroke="#e2e2e2" stroke-width="0.6"/><rect x="518.4" y="604.0" width="23.6" height="13" fill="#e2e2e2"/><path d="M518.4,617.0 L521.9,609.5 H538.5 L542.0,617.0Z" fill="#f6f6f6"/><rect x="521.9" y="605.2" width="16.6" height="4.3" fill="#fff"/><path d="M511.6000000000001,606 v6.5 M548.8,606 v6.5" stroke="#444" stroke-width="1.5"/><rect x="583.7" y="592" width="23.6" height="9.5" fill="#f2f2f2" stroke="#e4e4e4" stroke-width="0.5"/><rect x="575.0" y="601.5" width="41" height="18" fill="#fbfbfb" stroke="#e2e2e2" stroke-width="0.6"/><rect x="581.0" y="604.0" width="29.0" height="13" fill="#e2e2e2"/><path d="M581.0,617.0 L584.5,609.5 H606.5 L610.0,617.0Z" fill="#f6f6f6"/><rect x="584.5" y="605.2" width="22.0" height="4.3" fill="#fff"/><path d="M574.2,606 v6.5 M616.8,606 v6.5" stroke="#444" stroke-width="1.5"/>
</svg>
</body></html>
